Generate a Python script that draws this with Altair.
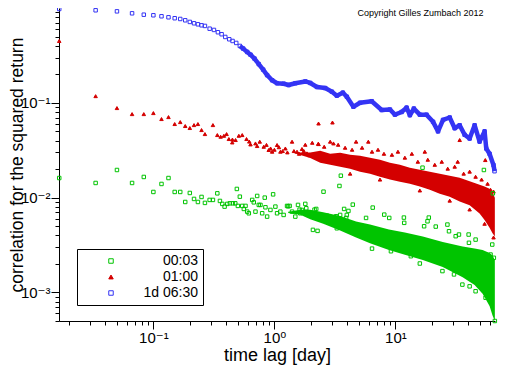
import altair as alt
import pandas as pd

FONT = "Liberation Sans, DejaVu Sans, sans-serif"
SERIES = ["00:03", "01:00", "1d 06:30"]
COLORS = ["#00c400", "#d40000", "#3434f4"]
SHAPES = ["square", "triangle-up", "square"]
FILLS = ["transparent", "#d40000", "transparent"]

# ---- tick values (log axes) ----
X_TICKS = [0.02, 0.03, 0.04, 0.05, 0.06, 0.07, 0.08, 0.09, 0.1,
           0.2, 0.3, 0.4, 0.5, 0.6, 0.7, 0.8, 0.9, 1,
           2, 3, 4, 5, 6, 7, 8, 9, 10, 20, 30, 40, 50, 60]
Y_TICKS = [0.0005, 0.0006, 0.0007, 0.0008, 0.0009, 0.001,
           0.002, 0.003, 0.004, 0.005, 0.006, 0.007, 0.008, 0.009, 0.01,
           0.02, 0.03, 0.04, 0.05, 0.06, 0.07, 0.08, 0.09, 0.1,
           0.2, 0.3, 0.4, 0.5, 0.6, 0.7, 0.8, 0.9]
MAJOR_VALUES = ["0.001", "0.01", "0.1", "1", "10"]
MAJOR_LABELS = ["10⁻³", "10⁻²", "10⁻¹", "10⁰", "10¹"]

# ---- 1d 06:30 (blue squares) ----
b_lag = [0.01667, 0.03333, 0.05, 0.06667, 0.08333, 0.1, 0.1167, 0.1333, 0.15, 0.1667,
         0.1833, 0.2, 0.2167, 0.2333, 0.25, 0.2667, 0.2917, 0.3166, 0.3414, 0.3663,
         0.3928, 0.4237, 0.4511, 0.4839, 0.518, 0.5525, 0.5959, 0.6345, 0.6844, 0.7427,
         0.807, 0.8707, 0.9574, 1.052, 1.192, 1.311, 1.489, 1.8, 1.978, 2.246,
         2.629, 2.985, 3.281, 3.677, 3.966, 4.494, 5.104, 6.37, 7.697, 9.01,
         9.906, 11.25, 12.37, 13.16, 14.2, 15.91, 18.06, 20.47, 22.5, 24.74,
         28.09, 30.89, 33.96, 37.33, 41.04, 45.12, 49.6, 54.54, 56.3, 59.96,
         64.67, 65.9]
b_val = [0.976, 0.946, 0.922, 0.879, 0.85, 0.838, 0.818, 0.798, 0.78, 0.766,
         0.742, 0.713, 0.69, 0.673, 0.657, 0.647, 0.605, 0.587, 0.555, 0.529,
         0.495, 0.468, 0.449, 0.428, 0.398, 0.373, 0.344, 0.322, 0.293, 0.256,
         0.224, 0.196, 0.173, 0.161, 0.159, 0.154, 0.161, 0.168, 0.162, 0.147,
         0.143, 0.131, 0.119, 0.128, 0.116, 0.091, 0.100, 0.104, 0.084, 0.085,
         0.075, 0.080, 0.089, 0.074, 0.087, 0.075, 0.075, 0.063, 0.050, 0.066,
         0.070, 0.054, 0.058, 0.046, 0.042, 0.058, 0.039, 0.050, 0.033, 0.029,
         0.022, 0.019]

# ---- 01:00 (red triangles) ----
r_lag = [0.01667, 0.03333, 0.05, 0.06667, 0.08333, 0.1, 0.1167, 0.1333, 0.15, 0.1667,
         0.1833, 0.2, 0.2167, 0.2333, 0.25, 0.2667, 0.3105, 0.3376, 0.3594, 0.3826,
         0.4026, 0.4205, 0.45, 0.4486, 0.4775, 0.5084, 0.5422, 0.5884, 0.62, 0.6345,
         0.6976, 0.72, 0.7568, 0.8163, 0.86, 0.8975, 0.93, 0.9574, 1.0, 1.052,
         1.09, 1.121, 1.17, 1.232, 1.28, 1.399, 1.45, 1.538, 1.6, 1.69,
         1.75, 1.858, 1.95, 2.106, 2.315, 2.315, 2.546, 3.018, 3.076, 3.493,
         3.966, 5.97, 33.96, 55.3,
         1.8, 2.055, 2.302, 2.579, 2.891, 3.363, 3.84, 4.385, 4.73, 5.301,
         6.406, 7.178, 8.04, 9.359, 10.49, 11.97, 13.67, 15.32, 17.49, 18.51,
         21.14, 24.14, 27.05, 30.89, 32.69, 36.63, 41.04, 45.98, 51.52, 57.72,
         61.09, 64.67, 4.222, 7.455, 15.91, 28.09, 41.04, 54.54, 64.67]
r_val = [0.449, 0.1176, 0.088, 0.076, 0.076, 0.0779, 0.0674, 0.0707, 0.0597, 0.0626,
         0.0569, 0.0542, 0.0582, 0.0597, 0.0516, 0.0468, 0.0582, 0.0457, 0.0439, 0.0449,
         0.0468, 0.0415, 0.041, 0.0382, 0.0405, 0.0449, 0.0457, 0.0415, 0.039, 0.0364,
         0.0373, 0.035, 0.0389, 0.0344, 0.036, 0.0318, 0.033, 0.0305, 0.032, 0.0359,
         0.034, 0.0305, 0.031, 0.033, 0.030, 0.0389, 0.031, 0.0305, 0.029, 0.0326,
         0.031, 0.0293, 0.028, 0.0281, 0.0605, 0.0367, 0.0281, 0.062, 0.0373, 0.0249,
         0.0239, 0.0389, 0.0405, 0.0249,
         0.0361, 0.0379, 0.037, 0.0344, 0.0389, 0.0361, 0.0336, 0.032, 0.0389, 0.0336,
         0.0305, 0.032, 0.029, 0.0283, 0.0305, 0.0264, 0.029, 0.0239, 0.0305, 0.0251,
         0.0222, 0.0239, 0.0202, 0.0212, 0.0239, 0.0179, 0.0188, 0.0166, 0.0155, 0.014,
         0.0121, 0.0116, 0.0179, 0.0155, 0.0119, 0.0093, 0.0075, 0.0053, 0.0038]

# red dense band (upper / lower envelope)
rb_lag = [1.45, 1.978, 2.391, 2.891, 3.493, 4.222, 5.104, 6.168, 7.455, 9.01, 10.89,
          13.16, 15.91, 19.23, 23.25, 28.09, 33.96, 41.04, 49.6, 54.54, 59.96,
          63.46, 66.3]
rb_hi = [0.0300, 0.0300, 0.0313, 0.0290, 0.0298, 0.0283, 0.0277, 0.0264, 0.0251, 0.0233, 0.0222,
         0.0207, 0.0197, 0.0188, 0.0179, 0.0170, 0.0162, 0.0149, 0.0137, 0.0131, 0.0124,
         0.0113, 0.0100]
rb_lo = [0.0296, 0.0262, 0.0233, 0.0222, 0.0212, 0.0202, 0.0188, 0.0179, 0.0166, 0.0155, 0.0147,
         0.0140, 0.0131, 0.0121, 0.0110, 0.0102, 0.0091, 0.0083, 0.0068, 0.0058, 0.0048,
         0.0042, 0.0039]

# ---- 00:03 (green squares) ----
g_lag = [0.01667, 0.03333, 0.05, 0.06667, 0.08333, 0.1, 0.1167, 0.1333, 0.15, 0.1667,
         0.1833, 0.2, 0.2167, 0.2333, 0.25, 0.2667, 0.2917, 0.3105, 0.3376, 0.3547,
         0.3711, 0.3877, 0.408, 0.4286, 0.4537, 0.4749, 0.4895, 0.4988, 0.518, 0.5422,
         0.5589, 0.5773, 0.5959, 0.6146, 0.6554, 0.6755, 0.6976, 0.7204, 0.7427, 0.7671,
         0.7922, 0.8322, 0.8433, 0.8707, 0.927, 0.9757, 1.019, 1.052, 1.12, 1.192,
         1.272, 1.297, 1.336, 1.399, 1.489, 1.567, 1.615, 1.637, 1.69, 1.8,
         1.834, 1.915, 2.043, 2.082, 2.146, 2.175, 2.216, 2.272, 2.546, 2.715,
         2.891, 3.237, 3.281, 3.447, 3.493, 3.54, 3.768, 3.914, 3.966, 4.089,
         4.443, 5.72, 6.406, 6.492, 8.087, 8.89, 9.183, 11.75, 11.82, 13.41,
         15.91, 16.75, 17.26, 18.41, 18.87, 21.54, 24.46, 26.89, 27.72, 30.48,
         31.48, 33.5, 35.74, 40.27, 40.5, 41.04, 45.98, 45.98, 53.83, 55.6,
         55.6, 61.09, 63.1, 63.8, 65.05, 66.3]
g_val = [0.0161, 0.01428, 0.01957, 0.01428, 0.01652, 0.01148, 0.01394, 0.0161, 0.01148, 0.01148,
         0.009, 0.0112, 0.00969, 0.009, 0.01017, 0.0088, 0.00946, 0.00946, 0.0111, 0.00923,
         0.00859, 0.00804, 0.00859, 0.00871, 0.00871, 0.00871, 0.01235, 0.00818, 0.01024, 0.00818,
         0.0076, 0.00818, 0.00712, 0.00684, 0.00946, 0.00892, 0.00712, 0.01042, 0.00838, 0.00838,
         0.00684, 0.01, 0.00791, 0.00631, 0.00742, 0.01083, 0.00804, 0.00684, 0.00712, 0.00657,
         0.00818, 0.0081, 0.00818, 0.00712, 0.00631, 0.00838, 0.00747, 0.00684, 0.00742, 0.00859,
         0.00772, 0.00657, 0.00684, 0.00457, 0.00747, 0.00631, 0.0076, 0.00446, 0.01156, 0.00646,
         0.00559, 0.00636, 0.00475, 0.01328, 0.00657, 0.01704, 0.0076, 0.00611, 0.00657, 0.00724,
         0.00844, 0.00611, 0.0029, 0.00785, 0.00662, 0.00611, 0.00272, 0.00616, 0.00542, 0.00241,
         0.00202, 0.0207, 0.00499, 0.00563, 0.00616, 0.00495, 0.00168, 0.0052, 0.00442, 0.00155,
         0.00392, 0.00408, 0.00121, 0.00408, 0.00334, 0.00116, 0.00361, 0.00103, 0.01957, 0.00251,
         0.00088, 0.00251, 0.0032, 0.0111, 0.00232, 0.0005]

# green dense band (upper / lower envelope)
gb_lag = [1.3, 1.637, 1.978, 2.532, 3.493, 4.73, 6.168, 8.84, 11.97, 16.84, 24.6,
          35.94, 45.12, 52.52, 59.96, 63.46, 66.3]
gb_hi = [0.0071, 0.00747, 0.00747, 0.0070, 0.0064, 0.0056, 0.0052, 0.0046, 0.0043, 0.0039, 0.0034,
         0.00305, 0.0029, 0.0028, 0.0026, 0.00245, 0.0022]
gb_lo = [0.0069, 0.0066, 0.0059, 0.0053, 0.0045, 0.0038, 0.0033, 0.0028, 0.0025, 0.0022, 0.00185,
         0.00145, 0.0012, 0.00097, 0.00072, 0.00057, 0.0005]

# ---- tables ----
pts = pd.DataFrame({
    "lag": b_lag + r_lag + g_lag,
    "val": b_val + r_val + g_val,
    "series": [SERIES[2]] * len(b_lag) + [SERIES[1]] * len(r_lag) + [SERIES[0]] * len(g_lag),
})
blue_line = pd.DataFrame({"lag": b_lag, "val": b_val})
red_band = pd.DataFrame({"lag": rb_lag, "hi": rb_hi, "lo": rb_lo})
green_band = pd.DataFrame({"lag": gb_lag, "hi": gb_hi, "lo": gb_lo})

major_test = " || ".join(f"datum.value == {v}" for v in MAJOR_VALUES)
label_expr = "".join(f"datum.value == {v} ? '{t}' : " for v, t in zip(MAJOR_VALUES, MAJOR_LABELS)) + "''"
tick_cond = {"condition": {"test": major_test, "value": 8}, "value": 4}

common_axis = dict(
    labelExpr=label_expr, tickSize=tick_cond, tickWidth=1, tickColor="black",
    domainColor="black", domainWidth=1, labelColor="black", labelFont=FONT,
    labelFontSize=15, labelFlush=False, labelOverlap=False, grid=False,
    titleFont=FONT, titleFontWeight="normal", titleColor="black",
    titleBaseline="alphabetic",
)
x_axis = alt.Axis(values=X_TICKS, title="time lag [day]", titleY=39, titleFontSize=18,
                  labelPadding=1, **common_axis)
y_axis = alt.Axis(values=Y_TICKS, title="correlation for the squared return", titleX=-37,
                  titleFontSize=17.5, labelPadding=1, **common_axis)

x_scale = alt.Scale(type="log", domain=[0.0166, 66.5], nice=False)
y_scale = alt.Scale(type="log", domain=[0.0005, 1], nice=False)

X = alt.X("lag:Q", scale=x_scale, axis=x_axis)
Y = alt.Y("val:Q", scale=y_scale, axis=y_axis)
Yhi = alt.Y("hi:Q", scale=y_scale, axis=y_axis)

blue_layer = alt.Chart(blue_line).transform_filter("datum.lag >= 0.5").mark_line(
    color=COLORS[2], strokeWidth=4.5, strokeJoin="round", opacity=1
).encode(x=X, y=Y)

red_area = alt.Chart(red_band).mark_area(color=COLORS[1], opacity=1).encode(
    x=X, y=Yhi, y2="lo:Q")
green_area = alt.Chart(green_band).mark_area(color=COLORS[0], opacity=1).encode(
    x=X, y=Yhi, y2="lo:Q")

leg = alt.Legend(
    title=None, orient="none", legendX=18, legendY=241, strokeColor="black",
    fillColor="white", padding=5, symbolOffset=22, symbolSize=20, symbolStrokeWidth=1,
    labelAlign="right", labelOffset=80, labelFont=FONT, labelFontSize=14,
    labelColor="black", rowPadding=2,
)

points = alt.Chart(pts).mark_point(filled=False, size=12, strokeWidth=1, opacity=1).encode(
    x=X, y=Y,
    stroke=alt.Stroke("series:N", scale=alt.Scale(domain=SERIES, range=COLORS), legend=leg),
    fill=alt.Fill("series:N", scale=alt.Scale(domain=SERIES, range=FILLS), legend=leg),
    shape=alt.Shape("series:N", scale=alt.Scale(domain=SERIES, range=SHAPES), legend=leg),
)

chart = alt.layer(blue_layer, red_area, green_area, points).properties(
    width=436, height=313,
    autosize=alt.AutoSizeParams(type="none"),
    padding={"left": 51, "top": 0, "right": 9, "bottom": 45},
    title=alt.TitleParams("Copyright Gilles Zumbach 2012", anchor="end", fontSize=9,
                          font=FONT, fontWeight="normal", color="black", offset=-13, dx=-15),
).configure_view(stroke=None)

chart.save("out.html", embed_options={"renderer": "svg", "actions": False})
